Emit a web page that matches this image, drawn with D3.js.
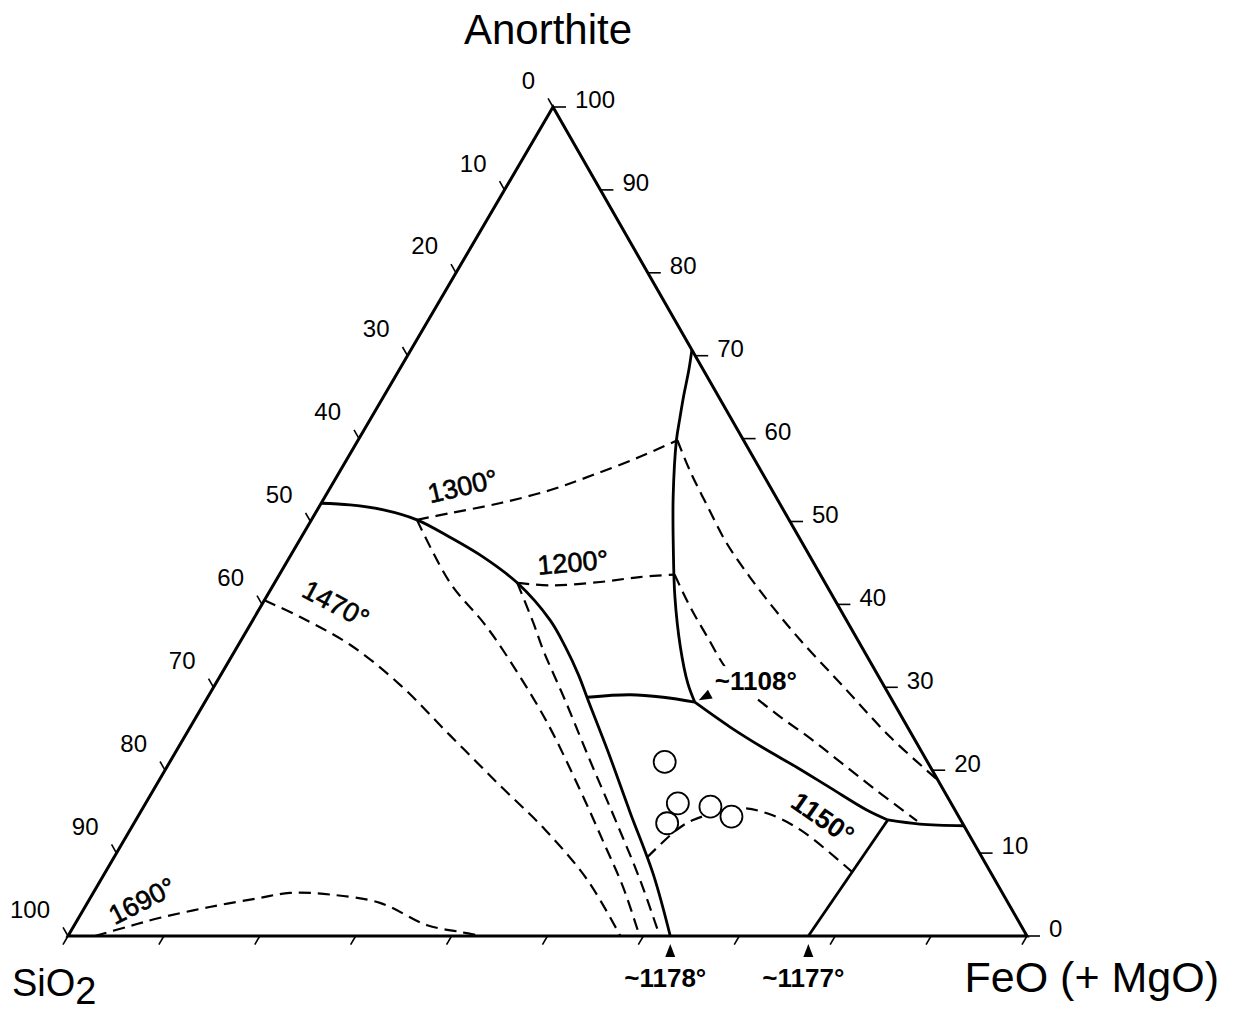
<!DOCTYPE html>
<html>
<head>
<meta charset="utf-8">
<script src="https://cdn.jsdelivr.net/npm/d3@7/dist/d3.min.js"></script>
<style>
body { margin: 0; background: #fff; }
svg text { font-family: "Liberation Sans", Arial, sans-serif; fill: #000; }
</style>
</head>
<body>
<svg id="main"></svg>
<script>
const width = 1234;
const height = 1012;

// every composition is [Anorthite wt%, FeO wt%]; SiO2 is the rest
const tickValues = d3.range(0, 101, 10);

// field boundaries (solid)
const boundaryA = [[52.2, 0], [52.0, 3.1], [51.4, 6.9], [50.2, 11.0], [48.1, 15.5], [45.7, 20.2], [42.6, 25.3], [38.1, 31.0], [34.9, 34.2], [31.5, 37.3], [28.5, 39.8], [22.2, 45.1], [15.0, 51.0], [7.4, 57.3], [0, 62.8]];
const boundaryB = [[28.8, 39.6], [29.1, 43.9], [28.8, 47.5], [28.2, 51.1]];
const boundaryC = [[70.7, 29.3], [68.3, 30.2], [65.0, 31.3], [62.5, 32.2], [59.8, 33.2], [53.0, 36.3], [46.9, 39.4], [40.9, 42.6], [34.9, 46.2], [30.5, 49.2], [28.2, 51.1]];
const boundaryD = [[28.2, 51.1], [25.2, 56.3], [22.7, 61.0], [20.3, 65.8], [17.9, 70.4], [15.2, 75.6], [14.0, 78.4]];
const boundaryE = [[14.0, 78.4], [13.5, 82.0], [13.3, 86.7]];
const boundaryF = [[14.0, 78.4], [0, 77.2]];

// isotherms (dashed)
const iso1690 = [[0, 2.8], [1.1, 5.6], [2.2, 8.5], [3.5, 13.0], [4.6, 17.7], [5.2, 20.5], [5.0, 24.8], [4.0, 30.5], [1.3, 36.8], [0.5, 40.6], [0, 43.2]];
const iso1470 = [[40.5, 0], [38.5, 4.7], [35.1, 11.7], [30.3, 19.3], [24.2, 27.6], [18.2, 35.8], [12.8, 43.3], [6.8, 50.7], [0, 57.6]];
const iso1300low = [[50.2, 11.0], [42.6, 18.3], [37.8, 24.2], [34.5, 27.9], [26.1, 36.6], [17.6, 44.5], [11.0, 50.4], [5.9, 54.9], [0, 59.6]];
const iso1200low = [[42.6, 25.3], [37.8, 29.4], [34.5, 32.1], [28.5, 37.4], [21.2, 43.7], [14.0, 50.0], [6.8, 56.2], [0, 61.7]];
const iso1300left = [[50.2, 11.0], [51.0, 14.0], [52.2, 18.6], [53.8, 23.1], [55.6, 26.6], [57.8, 30.4], [59.8, 33.3]];
const iso1300right = [[59.8, 33.3], [56.2, 36.4], [51.8, 40.5], [47.4, 44.7], [43.3, 49.2], [39.7, 53.4], [35.7, 58.3], [30.5, 65.1], [24.0, 73.6], [18.8, 81.2]];
const iso1200left = [[42.6, 25.3], [42.3, 28.9], [42.7, 33.9], [43.3, 37.7], [43.6, 41.2]];
const iso1200right = [[43.6, 41.2], [39.7, 44.8], [36.1, 48.4], [32.1, 52.5], [29.4, 56.2], [26.5, 60.8], [23.8, 65.4], [21.0, 69.9], [17.7, 75.2], [13.9, 81.5]];
const iso1150 = [[9.5, 55.6], [12.8, 57.0], [14.0, 58.1], [15.4, 62.3], [14.8, 65.4], [12.8, 69.9], [7.7, 77.9]];

// analysed samples
const samples = [[21.0, 51.6], [16.0, 55.5], [15.6, 59.1], [14.4, 61.9], [13.6, 55.6]];

// temperature labels: text and the composition they sit on
const isoLabels = ['1690°', '1470°', '1300°', '1200°', '1150°'];
const isoLabelAt = [[4.0, 5.8], [39.8, 7.7], [54.0, 13.9], [44.8, 30.0], [14.0, 71.5]];
const isoLabelAngle = [-27, 28, -13, -5, 35];

// invariant points
const invariantLabels = ['~1108°', '~1178°', '~1177°'];
const invariantAt = [[28.2, 51.1], [0, 62.8], [0, 77.2]];

// SCALES -------------------------------------------
const corner = { top: [553, 107], left: [68, 936], right: [1027, 936] };

const yScale = d3.scaleLinear().domain([0, 100]).range([corner.left[1], corner.top[1]]);
const xBase = d3.scaleLinear().domain([0, 100]).range([corner.left[0], corner.right[0]]);
const xShift = d3.scaleLinear().domain([0, 100]).range([0, corner.top[0] - corner.left[0]]);

const proj = d => [xBase(d[1]) + xShift(d[0]), yScale(d[0])];

const unit = (a, b) => {
    const dx = b[0] - a[0], dy = b[1] - a[1], l = Math.hypot(dx, dy);
    return [dx / l, dy / l];
};

const svg = d3.select('svg#main')
    .attr('width', width)
    .attr('height', height);

const line = d3.line()
    .x(d => proj(d)[0])
    .y(d => proj(d)[1])
    .curve(d3.curveCatmullRom.alpha(0.5));

// TRIANGLE -------------------------------------------
svg.append('path')
    .attr('d', d3.line().x(d => proj(d)[0]).y(d => proj(d)[1]).curve(d3.curveLinearClosed)([[100, 0], [0, 0], [0, 100]]))
    .attr('fill', 'none')
    .attr('stroke', '#000')
    .attr('stroke-width', 3)
    .attr('stroke-linejoin', 'miter');

// ticks
const leftDir = unit(corner.right, corner.top);
const bottomDir = unit(corner.top, corner.left);
const tickG = svg.append('g').attr('stroke', '#000').attr('stroke-width', 1.6);

tickValues.forEach(v => {
    // left side: SiO2 %
    const pl = proj([100 - v, 0]);
    tickG.append('line')
        .attr('x1', pl[0]).attr('y1', pl[1])
        .attr('x2', pl[0] + leftDir[0] * 10).attr('y2', pl[1] + leftDir[1] * 10);
    svg.append('text')
        .text(v)
        .attr('x', pl[0] + leftDir[0] * 10 - 13)
        .attr('y', pl[1] + leftDir[1] * 10 - 16)
        .attr('text-anchor', 'end')
        .attr('dominant-baseline', 'middle')
        .style('font-size', '24px');

    // right side: Anorthite %
    const pr = proj([v, 100 - v]);
    tickG.append('line')
        .attr('x1', pr[0]).attr('y1', pr[1])
        .attr('x2', pr[0] + 13).attr('y2', pr[1]);
    svg.append('text')
        .text(v)
        .attr('x', pr[0] + 22)
        .attr('y', pr[1] - 5)
        .attr('dominant-baseline', 'middle')
        .style('font-size', '24px');

    // bottom: no labels
    const pb = proj([0, v]);
    tickG.append('line')
        .attr('x1', pb[0]).attr('y1', pb[1])
        .attr('x2', pb[0] + bottomDir[0] * 10).attr('y2', pb[1] + bottomDir[1] * 10);
});

// CURVES -------------------------------------------
[iso1690, iso1470, iso1300low, iso1200low, iso1300left, iso1300right, iso1200left, iso1200right, iso1150].forEach(c =>
    svg.append('path')
        .attr('d', line(c))
        .attr('fill', 'none')
        .attr('stroke', '#000')
        .attr('stroke-width', 2.2)
        .attr('stroke-dasharray', '12,7')
);

[boundaryA, boundaryB, boundaryC, boundaryD, boundaryE, boundaryF].forEach(c =>
    svg.append('path')
        .attr('d', line(c))
        .attr('fill', 'none')
        .attr('stroke', '#000')
        .attr('stroke-width', 2.8)
);

// isotherm labels
isoLabels.forEach((t, i) => {
    const p = proj(isoLabelAt[i]);
    svg.append('text')
        .text(t)
        .attr('transform', `translate(${p[0]} ${p[1]}) rotate(${isoLabelAngle[i]})`)
        .attr('text-anchor', 'middle')
        .attr('dominant-baseline', 'middle')
        .style('font-size', '27px')
        .style('stroke', '#000')
        .style('stroke-width', t === '1150°' ? 0 : 0.6)
        .style('font-weight', t === '1150°' ? 'bold' : 'normal');
});

// invariant points
const arrow = (tip, dir) => {
    const n = [-dir[1], dir[0]];
    const b = [tip[0] - dir[0] * 13, tip[1] - dir[1] * 13];
    return `M${tip[0]},${tip[1]}L${b[0] + n[0] * 5},${b[1] + n[1] * 5}L${b[0] - n[0] * 5},${b[1] - n[1] * 5}Z`;
};

const j = proj(invariantAt[0]);
const jLabel = svg.append('g');
const jText = jLabel.append('text')
    .text(invariantLabels[0])
    .attr('x', j[0] + 20)
    .attr('y', j[1] - 19)
    .attr('dominant-baseline', 'middle')
    .style('font-size', '26px')
    .style('font-weight', 'bold');
const jb = jText.node().getBBox();
jLabel.insert('rect', 'text')
    .attr('x', jb.x - 2).attr('y', jb.y)
    .attr('width', jb.width + 4).attr('height', jb.height)
    .attr('fill', '#fff');
svg.append('path').attr('d', arrow([j[0] + 4, j[1] - 2], unit([15, -8], [0, 0])));

[1, 2].forEach(i => {
    const p = proj(invariantAt[i]);
    svg.append('path').attr('d', arrow([p[0], p[1] + 8], [0, -1]));
    svg.append('text')
        .text(invariantLabels[i])
        .attr('x', p[0] - 5)
        .attr('y', p[1] + 44)
        .attr('text-anchor', 'middle')
        .attr('dominant-baseline', 'middle')
        .style('font-size', '26px')
        .style('font-weight', 'bold');
});

// samples
svg.selectAll('circle.sample')
    .data(samples).enter()
    .append('circle')
    .attr('class', 'sample')
    .attr('cx', d => proj(d)[0])
    .attr('cy', d => proj(d)[1])
    .attr('r', 11)
    .attr('fill', '#fff')
    .attr('stroke', '#000')
    .attr('stroke-width', 1.8);

// CORNER NAMES -------------------------------------------
svg.append('text')
    .text('Anorthite')
    .attr('x', 548)
    .attr('y', 44)
    .attr('text-anchor', 'middle')
    .style('font-size', '42px');

const sio2 = svg.append('text')
    .attr('x', 12)
    .attr('y', 996)
    .style('font-size', '38px');
sio2.append('tspan').text('SiO');
sio2.append('tspan').text('2').attr('dy', 8);

svg.append('text')
    .text('FeO (+ MgO)')
    .attr('x', 1219)
    .attr('y', 992)
    .attr('text-anchor', 'end')
    .style('font-size', '43px');
</script>
</body>
</html>
